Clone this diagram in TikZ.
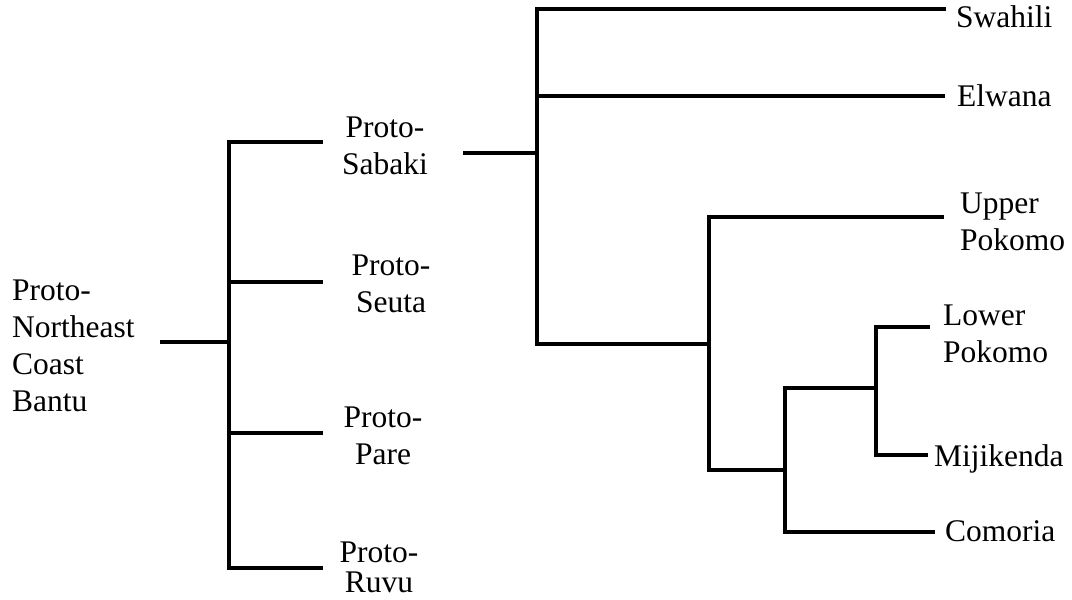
\documentclass[tikz,border=0pt]{standalone}
\usepackage{fontspec}
\setmainfont{Liberation Serif}
\begin{document}
\begin{tikzpicture}[x=1pt,y=-1pt,
  lab/.style={inner sep=0pt, font=\fontsize{31.5}{37}\selectfont},
  labl/.style={lab, anchor=base west, align=left},
  labc/.style={lab, anchor=base, align=center},
  br/.style={line width=3.2pt, line join=miter, black}]
\useasboundingbox (0,0) rectangle (1072,600);
% --- joints and branch ends ---
\coordinate (rootE) at (160,342);
\coordinate (neJ) at (229,342);
\coordinate (neT) at (229,142);
\coordinate (neB) at (229,568);
\coordinate (ne2J) at (229,282);
\coordinate (ne3J) at (229,433);
\coordinate (sabE) at (323,142);
\coordinate (seuE) at (323,282);
\coordinate (parE) at (323,433);
\coordinate (ruvE) at (323,568);
\coordinate (sabS) at (463,153);
\coordinate (sabJ) at (537,153);
\coordinate (sabT) at (537,9);
\coordinate (sabM) at (537,96);
\coordinate (sabB) at (537,344);
\coordinate (swaE) at (946,9);
\coordinate (elwE) at (945,96);
\coordinate (pkJ) at (709,344);
\coordinate (pkT) at (709,217);
\coordinate (pkB) at (709,470);
\coordinate (upE) at (944,217);
\coordinate (mcJ) at (785,470);
\coordinate (mcT) at (785,388);
\coordinate (mcB) at (785,532);
\coordinate (comE) at (935,532);
\coordinate (lmJ) at (876,388);
\coordinate (lmT) at (876,327);
\coordinate (lmB) at (876,455);
\coordinate (lowE) at (930,327);
\coordinate (mijE) at (928,455);
% --- labels (base anchor = baseline of last line) ---
\node[labl] (root) at (12,411) {Proto-\\Northeast\\Coast\\Bantu};
\node[labc] (sab) at (385,174) {Proto-\\Sabaki};
\node[labc] (seu) at (391,312) {Proto-\\Seuta};
\node[labc] (par) at (383,464) {Proto-\\Pare};
\node[labc] (ruv) at (379,592) {Proto-\\[-7pt]Ruvu};
\node[labl] (swa) at (956,27) {Swahili};
\node[labl] (elw) at (957,106) {Elwana};
\node[labl] (upp) at (960,250) {Upper\\Pokomo};
\node[labl] (low) at (943,362) {Lower\\Pokomo};
\node[labl] (mij) at (934,466) {Mijikenda};
\node[labl] (com) at (945,541) {Comoria};
% --- connectors ---
\draw[br] (rootE) -- (neJ);
\draw[br] (sabE) -- (neT) -- (neB) -- (ruvE);
\draw[br] (ne2J) -- (seuE);
\draw[br] (ne3J) -- (parE);
\draw[br] (sabS) -- (sabJ);
\draw[br] (swaE) -- (sabT) -- (sabB) -- (pkJ);
\draw[br] (sabM) -- (elwE);
\draw[br] (upE) -- (pkT) -- (pkB) -- (mcJ);
\draw[br] (lmJ) -- (mcT) -- (mcB) -- (comE);
\draw[br] (lowE) -- (lmT) -- (lmB) -- (mijE);
\end{tikzpicture}
\end{document}
